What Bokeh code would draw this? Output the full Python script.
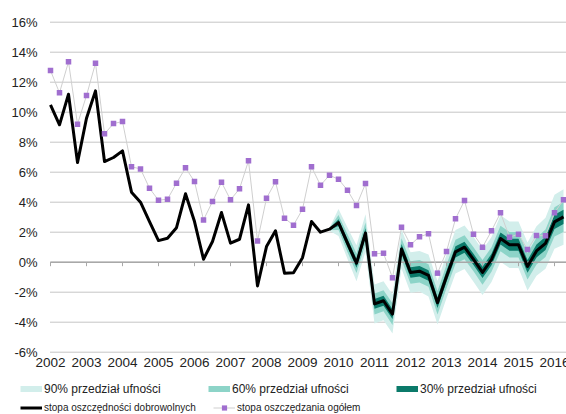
from bokeh.plotting import figure
from bokeh.models import Legend, LegendItem
from bokeh.core.properties import value
from bokeh.embed import file_html
from bokeh.resources import INLINE

# ---------------- data ----------------
years = list(range(2002, 2017))
year_labels = [str(y) for y in years]

# quarterly observations 2002Q1 .. 2016Q2
quarter_year = [y for y in range(2002, 2017) for _ in range(4)][:58]
quarter_num = [q for _ in range(2002, 2017) for q in (1, 2, 3, 4)][:58]

# stopa oszczędności dobrowolnych (black line), %
voluntary = [
    10.49, 9.16, 11.2, 6.64,
    9.6, 11.42, 6.71, 6.98,
    7.42, 4.67, 4.0, 2.71,
    1.44, 1.6, 2.3, 4.56,
    2.71, 0.2, 1.38, 3.31,
    1.27, 1.53, 3.82, -1.58,
    1.04, 2.09, -0.73, -0.7,
    0.3, 2.71, 2.0, 2.2,
    2.64, 1.27, -0.07, 1.95,
    -2.78, -2.57, -3.46, 0.88,
    -0.68, -0.6, -0.88, -2.7,
    -0.95, 0.69, 1.0, 0.19,
    -0.68, 0.18, 1.58, 1.16,
    1.16, -0.28, 0.75, 1.26,
    2.69, 3.02,
]

# stopa oszczędzania ogółem (purple markers), %
total = [
    12.78, 11.29, 13.36, 9.2,
    11.11, 13.27, 8.56, 9.24,
    9.38, 6.36, 6.22, 4.93,
    4.13, 4.2, 5.27, 6.29,
    5.38, 2.82, 4.04, 5.33,
    4.16, 4.89, 6.76, 1.42,
    4.27, 5.36, 2.93, 2.47,
    3.53, 6.36, 5.13, 5.8,
    5.53, 4.8, 3.78, 5.24,
    0.56, 0.6, -1.04, 2.33,
    1.16, 1.7, 1.89, -0.73,
    0.71, 2.89, 4.11, 1.87,
    1.0, 2.09, 3.29, 1.67,
    1.87, 0.84, 1.78, 1.76,
    3.29, 4.17,
]

# confidence bands (half-widths, p.p.) from 2009Q4 to 2016Q2
fan_start = 31
half90 = [0.1, 0.9, 1.05, 1.2, 1.25, 1.3, 1.3, 1.3, 1.3, 1.35, 1.35, 1.4, 1.45, 1.45,
          1.45, 1.45, 1.5, 1.5, 1.5, 1.55, 1.55, 1.55, 1.6, 1.65, 1.7, 1.8, 1.85]
half60 = [0.06, 0.5, 0.6, 0.65, 0.7, 0.7, 0.7, 0.72, 0.72, 0.75, 0.75, 0.75, 0.78, 0.78,
          0.8, 0.8, 0.8, 0.82, 0.82, 0.85, 0.85, 0.85, 0.88, 0.9, 0.92, 0.98, 1.0]
half30 = [0.03, 0.22, 0.27, 0.3, 0.32, 0.32, 0.33, 0.33, 0.34, 0.35, 0.35, 0.35, 0.36, 0.36,
          0.37, 0.37, 0.37, 0.38, 0.38, 0.4, 0.4, 0.4, 0.42, 0.43, 0.44, 0.47, 0.48]

y_ticks = [-6, -4, -2, 0, 2, 4, 6, 8, 10, 12, 14, 16]
y_tick_labels = ["-6%", "-4%", "-2%", "0%", "2%", "4%", "6%", "8%", "10%", "12%", "14%", "16%"]

legend_labels = ["90% przedział ufności", "60% przedział ufności", "30% przedział ufności",
                 "stopa oszczędności dobrowolnych", "stopa oszczędzania ogółem"]

# ---------------- styles / geometry ----------------
C90 = "#d2eeeb"
C60 = "#8dd4c8"
C30 = "#0b7a6a"
PURPLE = "#a06ecf"
GREYLINE = "#cfcfcf"
GRID = "#8c8c8c"
AXIS = "#a8a8a8"
FONT = "Liberation Sans"
TXT = "#222222"

W, H = 566, 414
PX_YEAR = 36.0      # pixels per year
PX_PCT = 15.0       # pixels per percentage point
X0_PX = 50.0        # pixel of 2002 start
Y16_PX = 21.7       # pixel of 16 %

x_start = 2002 - X0_PX / PX_YEAR
x_end = x_start + W / PX_YEAR
y_top = 16 + Y16_PX / PX_PCT
y_bottom = y_top - H / PX_PCT

x = [y + (q - 1) * 0.25 for y, q in zip(quarter_year, quarter_num)]
fx = x[fan_start:]
fc = voluntary[fan_start:]

p = figure(width=W, height=H, output_backend="svg", toolbar_location=None,
           x_range=(x_start, x_end), y_range=(y_bottom, y_top),
           x_axis_location=None, y_axis_location=None,
           min_border_left=0, min_border_right=0, min_border_top=0, min_border_bottom=0)
p.outline_line_color = None
p.background_fill_color = "white"
p.border_fill_color = "white"
p.grid.visible = False

# horizontal dotted gridlines (from 2002 to right edge)
n = len(y_ticks)
p.segment(x0=[years[0]] * n, y0=y_ticks, x1=[x_end] * n, y1=y_ticks,
          line_color=GRID, line_dash="1 1", line_width=1)

# y tick labels
p.text(x=[years[0] - 13 / PX_YEAR] * n, y=y_ticks, text=y_tick_labels,
       text_align="right", text_baseline="middle", text_font=value(FONT),
       text_font_size="13px", text_color=TXT)

# x tick labels (below the plot area)
p.text(x=years, y=[-6 - 10.5 / PX_PCT] * len(years), text=year_labels,
       text_align="center", text_baseline="middle", text_font=value(FONT),
       text_font_size="13.5px", text_color=TXT)

# fan chart
p.varea(x=fx, y1=[c - w for c, w in zip(fc, half90)], y2=[c + w for c, w in zip(fc, half90)],
        fill_color=C90)
p.varea(x=fx, y1=[c - w for c, w in zip(fc, half60)], y2=[c + w for c, w in zip(fc, half60)],
        fill_color=C60)
p.varea(x=fx, y1=[c - w for c, w in zip(fc, half30)], y2=[c + w for c, w in zip(fc, half30)],
        fill_color=C30)

# zero line with year ticks
p.segment(x0=[years[0]], y0=[0], x1=[x_end], y1=[0], line_color=AXIS, line_width=1.5)
p.segment(x0=years, y0=[0] * len(years), x1=years, y1=[-4 / PX_PCT] * len(years),
          line_color=AXIS, line_width=1)

r_vol = p.line(x, voluntary, line_color="black", line_width=3, line_join="round")
r_tot_line = p.line(x, total, line_color=GREYLINE, line_width=1)
r_tot_pts = p.scatter(x, total, marker="square", size=5.5, fill_color=PURPLE, line_color=None)

# legend swatches (invisible line renderers used only for the legend glyph)
nan = float("nan")
s90 = p.line(x=[nan], y=[nan], line_color=C90, line_width=6, line_cap="butt")
s60 = p.line(x=[nan], y=[nan], line_color=C60, line_width=6, line_cap="butt")
s30 = p.line(x=[nan], y=[nan], line_color=C30, line_width=6, line_cap="butt")

common = dict(orientation="horizontal", glyph_width=22, glyph_height=13, label_height=13,
              label_standoff=2, padding=0, margin=0, border_line_color=None,
              background_fill_alpha=0, label_text_font=FONT, label_text_color=TXT)

leg1 = Legend(items=[LegendItem(label=legend_labels[0], renderers=[s90]),
                     LegendItem(label=legend_labels[1], renderers=[s60]),
                     LegendItem(label=legend_labels[2], renderers=[s30])],
              location=(20, H - 395.5), label_width=160, spacing=4,
              label_text_font_size="12px", **common)
leg2 = Legend(items=[LegendItem(label=legend_labels[3], renderers=[r_vol]),
                     LegendItem(label=legend_labels[4], renderers=[r_tot_line, r_tot_pts])],
              location=(20, H - 414.0), label_width=165, spacing=4,
              label_text_font_size="10px", **common)
p.add_layout(leg1)
p.add_layout(leg2)

open("out.html", "w").write(file_html(p, INLINE))
